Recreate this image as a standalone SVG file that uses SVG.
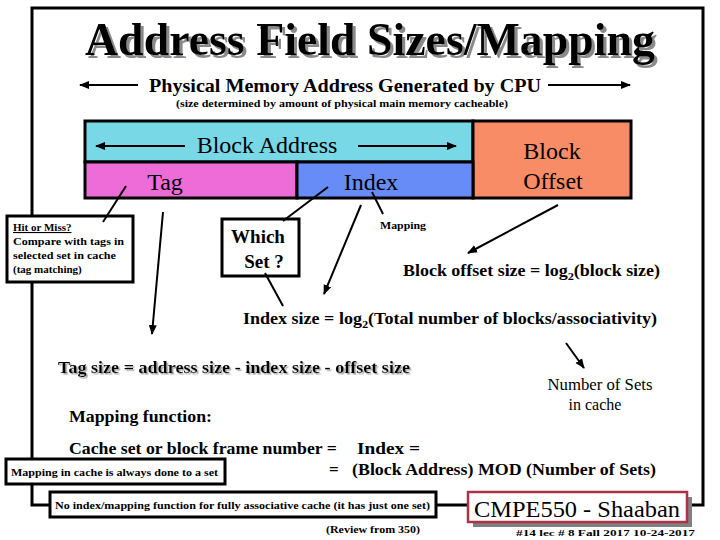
<svg xmlns="http://www.w3.org/2000/svg" width="720" height="540" viewBox="0 0 720 540">
<style>
text{font-family:"Liberation Serif","Times New Roman",Times,"Nimbus Roman","Noto Serif","DejaVu Serif",serif;fill:#000}
.b{font-weight:bold}
.box{fill:#fff;stroke:#000;stroke-width:3}
.fld{stroke:#000;stroke-width:3}
.ln{stroke:#000;stroke-width:2;fill:none}
.sh{filter:url(#shadow)}
.sh2{filter:url(#shadow2)}
</style>
<defs>
<marker id="ah" viewBox="0 0 10 10" refX="9" refY="5" markerWidth="5" markerHeight="5" orient="auto">
<path d="M0,1 L10,5 L0,9 z" fill="#000"/>
</marker>
<filter id="shadow" x="-5%" y="-20%" width="110%" height="150%">
<feDropShadow dx="3" dy="3" stdDeviation="0" flood-color="#8a8a8a" flood-opacity="1"/>
</filter>
<filter id="shadow2" x="-5%" y="-20%" width="110%" height="150%">
<feDropShadow dx="1.5" dy="1.5" stdDeviation="0" flood-color="#a0a0a0" flood-opacity="1"/>
</filter>
</defs>
<rect width="720" height="540" fill="#fff"/>
<g id="frame"><rect x="32" y="8" width="671" height="497" fill="none" stroke="#000" stroke-width="3"/></g>
<g id="title">
<text x="370" y="55" text-anchor="middle" class="b sh" font-size="46" textLength="570" lengthAdjust="spacingAndGlyphs">Address Field Sizes/Mapping</text>
</g>
<g id="subtitle">
<text x="345" y="92" text-anchor="middle" class="b" font-size="18" textLength="392" lengthAdjust="spacingAndGlyphs">Physical Memory Address Generated by CPU</text>
<text x="342" y="107" text-anchor="middle" class="b" font-size="11" textLength="332" lengthAdjust="spacingAndGlyphs">(size determined by amount of physical main memory cacheable)</text>
</g>
<g id="fields">
<g id="blockaddr"><rect x="85" y="121" width="388" height="41" fill="#78D8E6" class="fld"/>
<text x="267" y="153" text-anchor="middle" font-size="24">Block Address</text></g>
<g id="offset"><rect x="473" y="121" width="158" height="77" fill="#F88C66" class="fld"/>
<text x="552" y="159" text-anchor="middle" font-size="24">Block</text>
<text x="553" y="189" text-anchor="middle" font-size="24">Offset</text></g>
<g id="tag"><rect x="85" y="162" width="212" height="36" fill="#EE6CD8" class="fld"/>
<text x="165" y="190" text-anchor="middle" font-size="24">Tag</text></g>
<g id="index"><rect x="297" y="162" width="176" height="36" fill="#678CF7" class="fld"/>
<text x="371" y="190" text-anchor="middle" font-size="24">Index</text></g>
</g>
<g id="hitmiss">
<rect x="7" y="216" width="126" height="66" class="box"/>
<text x="13" y="231" class="b" font-size="11" text-decoration="underline">Hit or Miss?</text>
<text x="13" y="245" class="b" font-size="11" textLength="111" lengthAdjust="spacingAndGlyphs">Compare with tags in</text>
<text x="13" y="259" class="b" font-size="11" textLength="103" lengthAdjust="spacingAndGlyphs">selected set in cache</text>
<text x="13" y="273" class="b" font-size="11">(tag matching)</text>
</g>
<g id="whichset">
<rect x="222" y="219" width="77" height="57" class="box"/>
<text x="258" y="243" text-anchor="middle" class="b" font-size="19">Which</text>
<text x="264" y="268" text-anchor="middle" class="b" font-size="19">Set ?</text>
</g>
<g id="connectors">
<line x1="103" y1="222" x2="126" y2="186" class="ln"/>
<line x1="163" y1="212" x2="152" y2="334" class="ln" marker-end="url(#ah)"/>
<line x1="283" y1="221" x2="328" y2="187" class="ln"/>
<line x1="265" y1="273" x2="283" y2="306" class="ln"/>
<line x1="361" y1="205" x2="324" y2="294" class="ln" marker-end="url(#ah)"/>
<line x1="372" y1="192" x2="383" y2="214" class="ln"/>
<line x1="558" y1="205" x2="468" y2="253" class="ln" marker-end="url(#ah)"/>
<line x1="566" y1="343" x2="584" y2="368" class="ln" marker-end="url(#ah)"/>
<line x1="138" y1="85" x2="80" y2="85" class="ln" marker-end="url(#ah)"/>
<line x1="548" y1="85" x2="630" y2="85" class="ln" marker-end="url(#ah)"/>
<line x1="185" y1="146" x2="96" y2="146" class="ln" marker-end="url(#ah)"/>
<line x1="358" y1="146" x2="456" y2="146" class="ln" marker-end="url(#ah)"/>
</g>
<g id="labels">
<text x="380" y="229" class="b" font-size="11" textLength="46" lengthAdjust="spacingAndGlyphs">Mapping</text>
<text x="403" y="276" class="b" font-size="16" textLength="257" lengthAdjust="spacingAndGlyphs">Block offset size = log<tspan font-size="11" dy="4">2</tspan><tspan dy="-4">(block size)</tspan></text>
<text x="243" y="324" class="b" font-size="16" textLength="414" lengthAdjust="spacingAndGlyphs">Index size = log<tspan font-size="11" dy="4">2</tspan><tspan dy="-4">(Total number of blocks/associativity)</tspan></text>
<text x="58" y="373" class="b sh2" font-size="16" textLength="352" lengthAdjust="spacingAndGlyphs">Tag size = address size - index size - offset size</text>
<text x="600" y="390" text-anchor="middle" font-size="16" textLength="105" lengthAdjust="spacingAndGlyphs">Number of Sets</text>
<text x="595" y="410" text-anchor="middle" font-size="16">in cache</text>
<text x="69" y="422" class="b" font-size="16" textLength="143" lengthAdjust="spacingAndGlyphs">Mapping function:</text>
<text x="69" y="454" class="b" font-size="17" textLength="268" lengthAdjust="spacingAndGlyphs">Cache set or block frame number =</text>
<text x="357" y="454" class="b" font-size="17" textLength="63" lengthAdjust="spacingAndGlyphs">Index  =</text>
<text x="329" y="475" class="b" font-size="17">=</text>
<text x="352" y="475" class="b" font-size="17" textLength="304" lengthAdjust="spacingAndGlyphs">(Block Address) MOD (Number of Sets)</text>
<text x="326" y="533" class="b" font-size="11" textLength="94" lengthAdjust="spacingAndGlyphs">(Review from 350)</text>
</g>
<g id="mapbox">
<rect x="6" y="459" width="219" height="25" class="box"/>
<text x="11" y="476" class="b" font-size="11" textLength="207" lengthAdjust="spacingAndGlyphs">Mapping in cache is always done to a set</text>
</g>
<g id="noindex">
<rect x="50" y="492" width="386" height="25" class="box"/>
<text x="55" y="509" class="b" font-size="11" textLength="375" lengthAdjust="spacingAndGlyphs">No index/mapping function for fully associative cache (it has just one set)</text>
</g>
<g id="footer">
<rect x="473" y="497" width="219" height="30" fill="#808080"/>
<rect x="468" y="492" width="219" height="30" fill="#fff" stroke="#B03048" stroke-width="2.5"/>
<text x="577" y="517" text-anchor="middle" font-size="23" textLength="206" lengthAdjust="spacingAndGlyphs">CMPE550 - Shaaban</text>
<text x="516" y="536" class="b" font-size="9" textLength="179" lengthAdjust="spacingAndGlyphs">#14  lec # 8   Fall  2017  10-24-2017</text>
</g>
</svg>
